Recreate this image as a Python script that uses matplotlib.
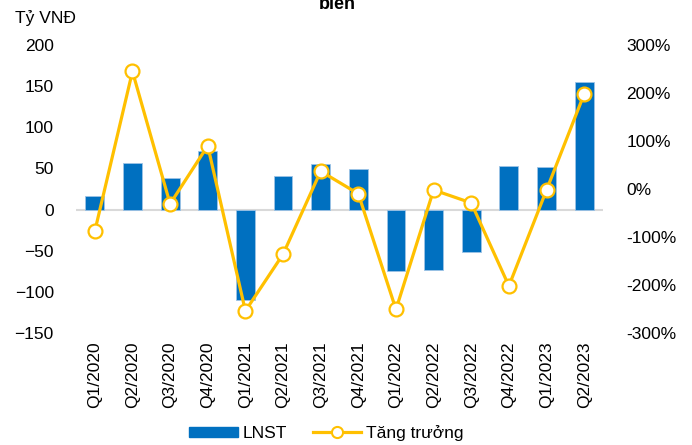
import matplotlib
matplotlib.use("Agg")
import matplotlib.pyplot as plt
from matplotlib.ticker import FuncFormatter
from matplotlib.lines import Line2D
from matplotlib.patches import Patch

plt.rcParams['font.family'] = ['Liberation Sans', 'DejaVu Sans']

quarters = ["Q1/2020", "Q2/2020", "Q3/2020", "Q4/2020",
            "Q1/2021", "Q2/2021", "Q3/2021", "Q4/2021",
            "Q1/2022", "Q2/2022", "Q3/2022", "Q4/2022",
            "Q1/2023", "Q2/2023"]
lnst = [16, 56, 38, 71, -110, 41, 55, 49, -75, -73, -52, 53, 52, 155]
growth = [-88, 245, -31, 90, -254, -136, 37, -10, -251, -2, -29, -202, -2, 198]

bar_color = "#0070C0"
line_color = "#FFC000"
fs = 12.5

fig = plt.figure(figsize=(6.92, 4.45), dpi=100)
ax = fig.add_axes([0.1098, 0.2517, 0.7616, 0.6472])
x = list(range(len(quarters)))

ax.bar(x, lnst, width=0.5, color=bar_color, edgecolor="#9DC3E6", linewidth=0.6, zorder=2)
ax.axhline(0, color="#D9D9D9", linewidth=1.5, zorder=1)
ax.set_ylim(-150, 200)
ax.set_yticks(range(-150, 201, 50))
ax.set_xlim(-0.5, len(quarters) - 0.5)
ax.set_xticks(x)
ax.set_xticklabels(quarters, rotation=90, fontsize=fs)
ax.tick_params(axis='y', length=0, pad=16, labelsize=fs)
ax.tick_params(axis='x', length=0, pad=6)
for s in ax.spines.values():
    s.set_visible(False)

ax2 = ax.twinx()
ax2.plot(x, growth, color=line_color, linewidth=2.3, marker='o', markersize=10,
         markerfacecolor='white', markeredgecolor=line_color, markeredgewidth=1.6, zorder=3)
ax2.set_ylim(-300, 300)
ax2.set_yticks(range(-300, 301, 100))
ax2.yaxis.set_major_formatter(FuncFormatter(lambda v, p: f"{int(v)}%"))
ax2.tick_params(axis='y', length=0, pad=17, labelsize=fs)
for s in ax2.spines.values():
    s.set_visible(False)

fig.text(15 / 692, 1 - 18 / 445, "Tỷ VNĐ", fontsize=fs, ha='left', va='center')
fig.text(337 / 692, 1 - 9 / 445, "biên", fontsize=13, fontweight='bold',
         ha='center', va='baseline')

handles = [Patch(facecolor=bar_color, edgecolor=bar_color),
           Line2D([], [], color=line_color, linewidth=2.3, marker='o', markersize=8,
                  markerfacecolor='white', markeredgecolor=line_color, markeredgewidth=1.5)]
fig.legend(handles, ["LNST", "Tăng trưởng"], loc='center', bbox_to_anchor=(0.472, 1 - 433 / 445),
           ncol=2, frameon=False, fontsize=fs, handlelength=2.8, handleheight=0.55,
           columnspacing=1.45, handletextpad=0.3)

fig.savefig("out.png", dpi=100)
